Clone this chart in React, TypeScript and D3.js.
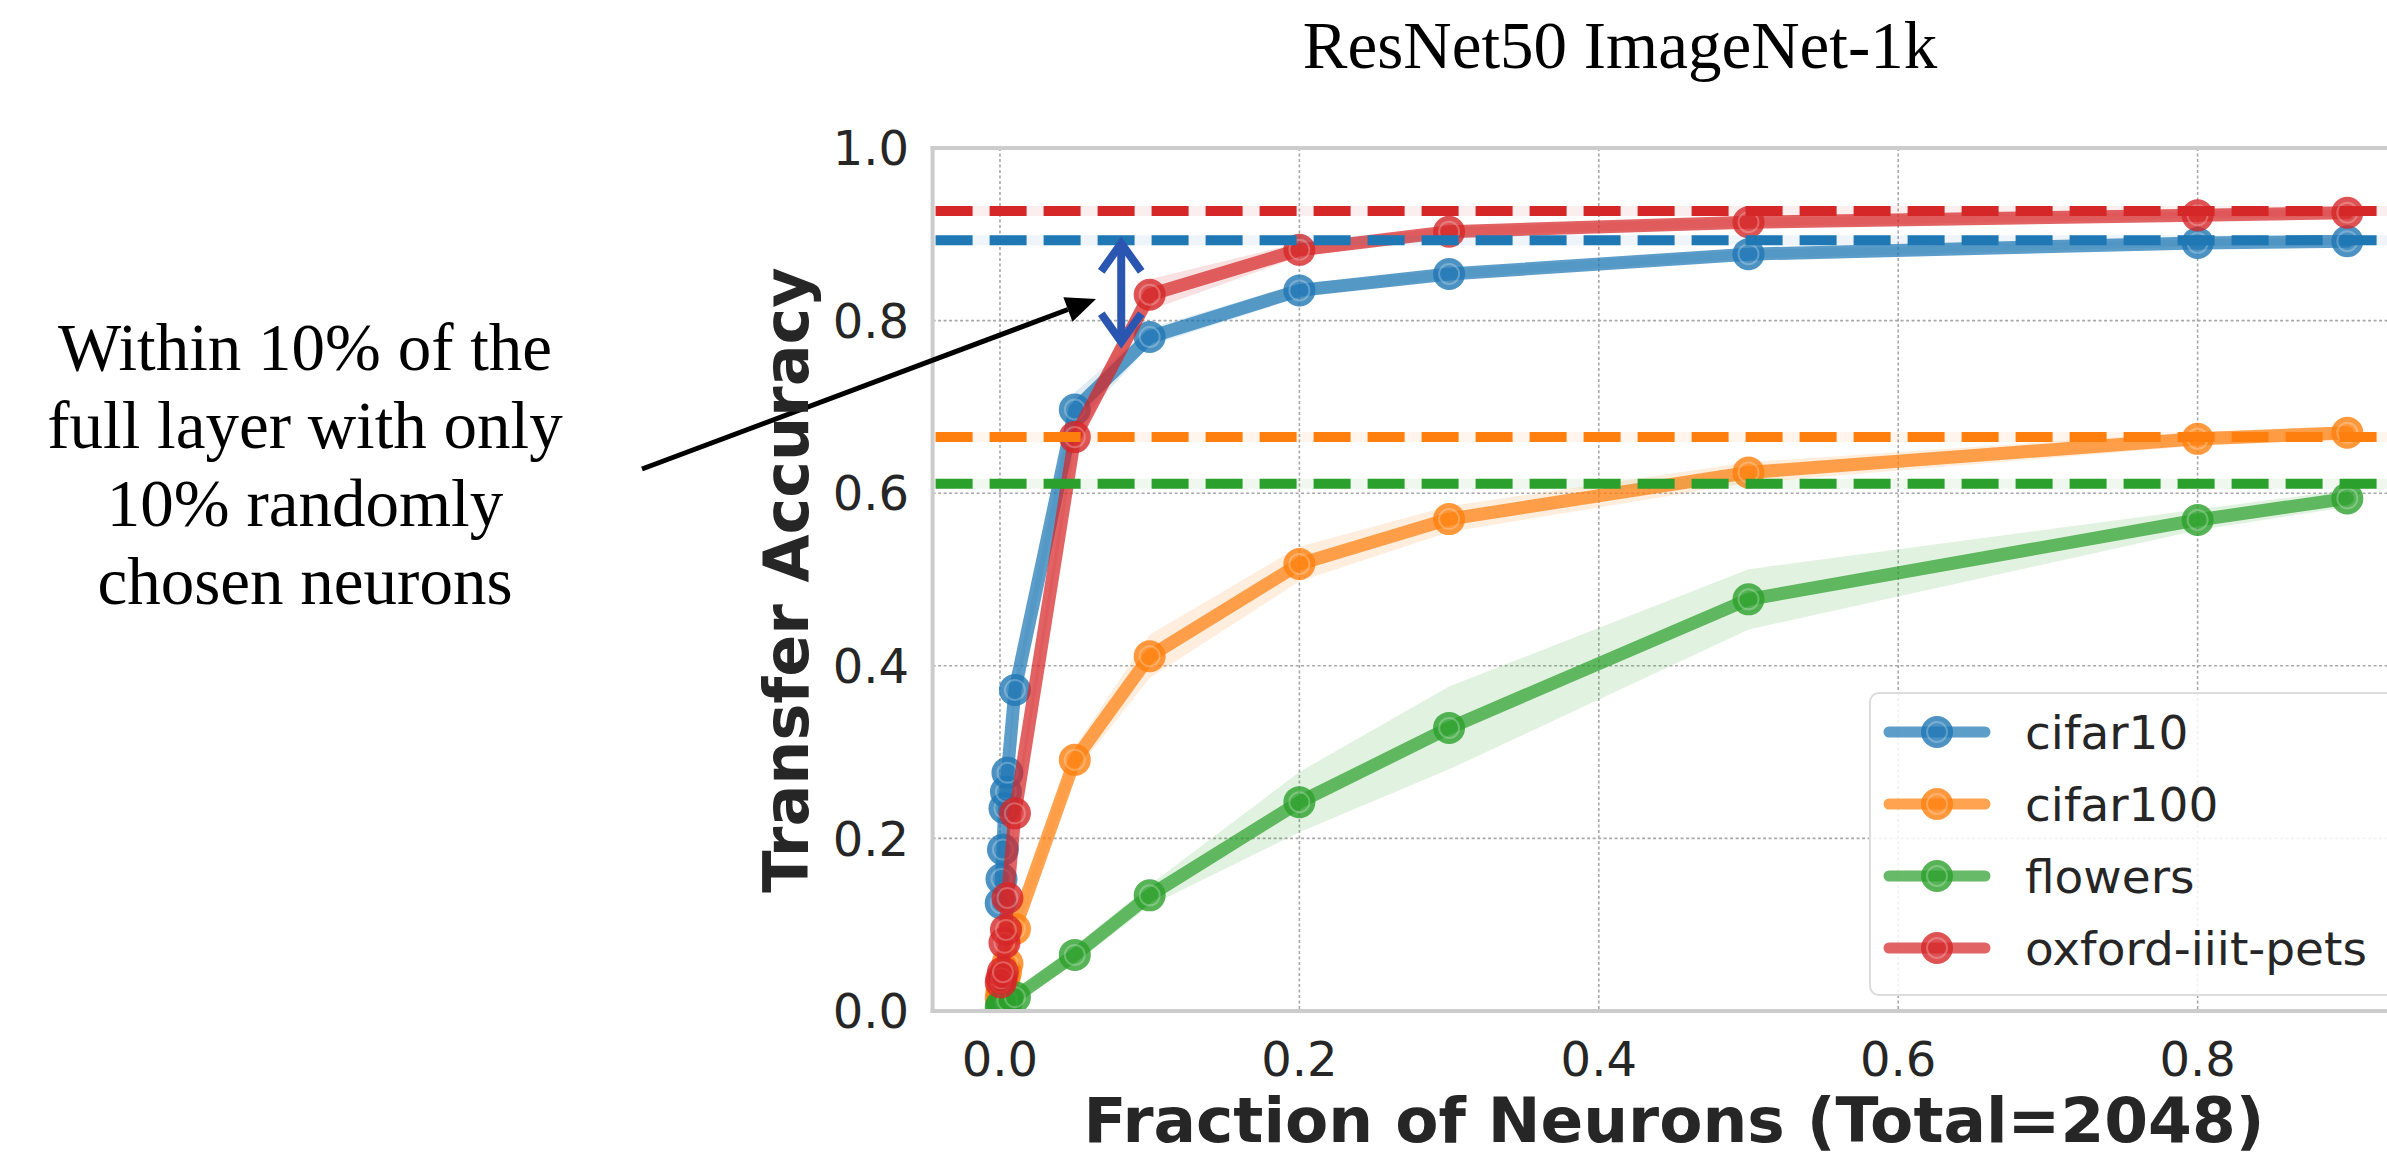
import * as d3 from "d3";

// canvas
const width = 2387;
const height = 1156;

// fraction of neurons kept (x values shared by every series)
const fractions = [0.0005, 0.001, 0.002, 0.003, 0.004, 0.005, 0.01, 0.05, 0.1, 0.2, 0.3, 0.5, 0.8, 0.9];

const datasets = ["cifar10", "cifar100", "flowers", "oxford-iiit-pets"];
const colors = ["#1f77b4", "#ff7f0e", "#2ca02c", "#d62728"];

// mean transfer accuracy
const cifar10Acc = [0.125, 0.153, 0.187, 0.235, 0.254, 0.276, 0.372, 0.697, 0.781, 0.835, 0.854, 0.877, 0.89, 0.892];
const cifar100Acc = [0.015, 0.022, 0.03, 0.038, 0.045, 0.055, 0.095, 0.291, 0.411, 0.518, 0.57, 0.624, 0.663, 0.67];
const flowersAcc = [0.005, 0.006, 0.007, 0.008, 0.01, 0.012, 0.016, 0.065, 0.134, 0.242, 0.328, 0.477, 0.569, 0.594];
const petsAcc = [0.033, 0.038, 0.045, 0.079, 0.094, 0.131, 0.229, 0.665, 0.83, 0.882, 0.903, 0.914, 0.922, 0.925];

// spread (half width of the shaded band)
const cifar10Std = [0.008, 0.008, 0.01, 0.01, 0.01, 0.01, 0.012, 0.02, 0.01, 0.008, 0.005, 0.005, 0.004, 0.004];
const cifar100Std = [0.004, 0.004, 0.005, 0.005, 0.006, 0.006, 0.01, 0.015, 0.025, 0.02, 0.015, 0.012, 0.008, 0.008];
const flowersStd = [0.002, 0.002, 0.003, 0.003, 0.003, 0.004, 0.005, 0.01, 0.012, 0.035, 0.048, 0.035, 0.012, 0.01];
const petsStd = [0.005, 0.005, 0.006, 0.008, 0.008, 0.01, 0.012, 0.012, 0.018, 0.008, 0.005, 0.005, 0.004, 0.004];

// accuracy of the full layer (dashed lines)
const fullLayerAcc = [0.893, 0.665, 0.611, 0.927];

const xTicks = [0, 0.2, 0.4, 0.6, 0.8];
const yTicks = [0, 0.2, 0.4, 0.6, 0.8, 1.0];

const title = "ResNet50 ImageNet-1k";
const xLabel = "Fraction of Neurons (Total=2048)";
const yLabel = "Transfer Accuracy";
const noteLines = ["Within 10% of the", "full layer with only", "10% randomly", "chosen neurons"];

// gap arrow spans cifar10's full layer down to this accuracy at this fraction
const gapArrowX = 0.081;
const gapArrowLow = 0.772;

const means = [cifar10Acc, cifar100Acc, flowersAcc, petsAcc];
const stds = [cifar10Std, cifar100Std, flowersStd, petsStd];

const x = d3.scaleLinear().domain([-0.045, 0.945]).range([932.6, 2414.7]);
const y = d3.scaleLinear().domain([0, 1]).range([1011, 148]);

const sans = "DejaVu Sans, sans-serif";
const serif = "Liberation Serif, Times New Roman, serif";
const textColor = "#262626";

function Marker({ cx, cy, color }: { cx: number; cy: number; color: string }) {
  return (
    <g>
      <circle cx={cx} cy={cy} r={16} fill={color} opacity={0.8} />
      <circle cx={cx} cy={cy} r={10} fill="none" stroke="#fff" strokeWidth={2} opacity={0.25} />
    </g>
  );
}

export default function App() {
  const line = d3
    .line<number>()
    .x((_, i) => x(fractions[i]))
    .y((d) => y(d));

  const band = (m: number[], s: number[]) =>
    d3
      .area<number>()
      .x((_, i) => x(fractions[i]))
      .y0((d, i) => y(d - s[i]))
      .y1((d, i) => y(d + s[i]))(m) as string;

  const [x0, x1] = x.range();
  const [yBottom, yTop] = y.range();

  // black annotation arrow
  const tail = [642, 469];
  const tip = [1096, 299];
  const ang = Math.atan2(tip[1] - tail[1], tip[0] - tail[0]);
  const headLen = 30;
  const headW = 13;
  const bx = tip[0] - headLen * Math.cos(ang);
  const by = tip[1] - headLen * Math.sin(ang);
  const head = [
    [tip[0], tip[1]],
    [bx + headW * Math.sin(ang), by - headW * Math.cos(ang)],
    [bx - headW * Math.sin(ang), by + headW * Math.cos(ang)],
  ];

  const ax = x(gapArrowX);
  const ayTop = y(fullLayerAcc[0]);
  const ayBot = y(gapArrowLow);

  return (
    <svg
      width={width}
      height={height}
      style={{ position: "absolute", left: 0, top: 0, background: "#fff" }}
    >
      <defs>
        <clipPath id="plot">
          <rect x={x0} y={yTop} width={x1 - x0} height={yBottom - yTop} />
        </clipPath>
      </defs>

      {/* grid */}
      <g stroke="#a8a8a8" strokeWidth={1.6} strokeDasharray="3 2.5">
        {xTicks.map((t) => (
          <line key={"gx" + t} x1={x(t)} x2={x(t)} y1={yTop} y2={yBottom} />
        ))}
        {yTicks.slice(1, -1).map((t) => (
          <line key={"gy" + t} x1={x0} x2={x1} y1={y(t)} y2={y(t)} />
        ))}
      </g>

      <g clipPath="url(#plot)">
        {means.map((m, k) => (
          <g key={datasets[k]}>
            <path d={band(m, stds[k])} fill={colors[k]} opacity={0.14} />
            <path
              d={line(m) as string}
              fill="none"
              stroke={colors[k]}
              strokeWidth={13}
              strokeOpacity={0.72}
              strokeLinejoin="round"
              strokeLinecap="round"
            />
            {m.map((v, i) => (
              <Marker key={i} cx={x(fractions[i])} cy={y(v)} color={colors[k]} />
            ))}
          </g>
        ))}

        {/* full layer accuracy */}
        {fullLayerAcc.map((v, k) => (
          <g key={"full" + k}>
            <line x1={x0} x2={x1} y1={y(v)} y2={y(v)} stroke={colors[k]} strokeWidth={10} opacity={0.07} />
            <line
              x1={x0 + 3}
              x2={x1}
              y1={y(v)}
              y2={y(v)}
              stroke={colors[k]}
              strokeWidth={10}
              strokeDasharray="37 17"
            />
          </g>
        ))}
      </g>

      {/* spines */}
      <g stroke="#cccccc" strokeWidth={4}>
        <line x1={x0} x2={x0} y1={yTop - 2} y2={yBottom + 2} />
        <line x1={x0 - 2} x2={x1} y1={yBottom} y2={yBottom} />
        <line x1={x0 - 2} x2={x1} y1={yTop} y2={yTop} />
      </g>

      {/* gap arrow */}
      <g stroke="#2a55b0" strokeWidth={8} fill="none" strokeLinecap="butt">
        <line x1={ax} x2={ax} y1={ayTop + 4} y2={ayBot - 4} />
        <polyline points={`${ax - 20},${ayTop + 31} ${ax},${ayTop + 3} ${ax + 20},${ayTop + 31}`} />
        <polyline points={`${ax - 20},${ayBot - 31} ${ax},${ayBot - 3} ${ax + 20},${ayBot - 31}`} />
      </g>

      {/* annotation arrow */}
      <line x1={tail[0]} y1={tail[1]} x2={bx} y2={by} stroke="#000" strokeWidth={5} />
      <polygon points={head.map((p) => p.join(",")).join(" ")} fill="#000" />

      {/* ticks */}
      <g fill={textColor} fontFamily={sans} fontSize={48}>
        {yTicks.map((t) => (
          <text key={"ty" + t} x={909} y={y(t)} dy="0.36em" textAnchor="end">
            {t.toFixed(1)}
          </text>
        ))}
        {xTicks.map((t) => (
          <text key={"tx" + t} x={x(t)} y={1076} textAnchor="middle">
            {t.toFixed(1)}
          </text>
        ))}
      </g>

      {/* axis labels */}
      <text x={1674} y={1142} textAnchor="middle" fontFamily={sans} fontWeight="bold" fontSize={63} fill={textColor}>
        {xLabel}
      </text>
      <text
        transform={`translate(808,580) rotate(-90)`}
        textAnchor="middle"
        fontFamily={sans}
        fontWeight="bold"
        fontSize={62}
        fill={textColor}
      >
        {yLabel}
      </text>

      {/* title */}
      <text x={1620} y={68} textAnchor="middle" fontFamily={serif} fontSize={67} fill="#000">
        {title}
      </text>

      {/* annotation */}
      <g fontFamily={serif} fontSize={67} fill="#000" textAnchor="middle">
        {noteLines.map((s, i) => (
          <text key={s} x={305} y={370 + i * 78}>
            {s}
          </text>
        ))}
      </g>

      {/* legend */}
      <rect x={1870} y={693} width={545} height={302} rx={9} fill="#fff" fillOpacity={0.85} stroke="#dcdcdc" strokeWidth={2} />
      {datasets.map((name, k) => {
        const ly = 732 + k * 72;
        return (
          <g key={"leg" + name}>
            <line x1={1889} x2={1985} y1={ly} y2={ly} stroke={colors[k]} strokeOpacity={0.72} strokeWidth={11} strokeLinecap="round" />
            <Marker cx={1937} cy={ly} color={colors[k]} />
            <text x={2025} y={ly} dy="0.36em" fontFamily={sans} fontSize={47} fill={textColor}>
              {name}
            </text>
          </g>
        );
      })}
    </svg>
  );
}
